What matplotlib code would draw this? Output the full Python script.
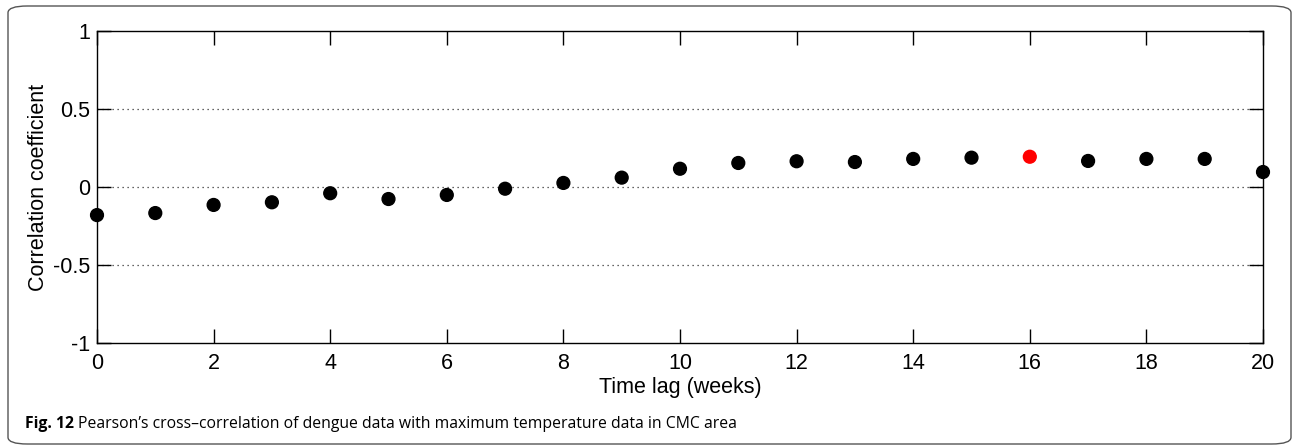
import matplotlib
matplotlib.use('Agg')
import matplotlib.pyplot as plt
from matplotlib.patches import FancyBboxPatch

# datos
lags = list(range(0, 21))
corr = [-0.18, -0.167, -0.115, -0.098, -0.04, -0.077, -0.051, -0.011, 0.026, 0.06,
        0.117, 0.154, 0.165, 0.16, 0.18, 0.188, 0.194, 0.167, 0.18, 0.18, 0.096]
max_lag = 16
yticks = [-1, -0.5, 0, 0.5, 1]
ytick_labels = ['-1', '-0.5', '0', '0.5', '1']
xticks = list(range(0, 21, 2))

plt.rcParams['font.family'] = ['Liberation Sans', 'DejaVu Sans']
plt.rcParams['axes.unicode_minus'] = False

W, H = 1294, 446
fig = plt.figure(figsize=(W / 100, H / 100), dpi=100)

# marco redondeado alrededor de la figura
box = FancyBboxPatch((8 / W, 1 - 444 / H), (1291 - 8) / W, (444 - 6) / H,
                     boxstyle='round,pad=0,rounding_size=0.015',
                     transform=fig.transFigure, fill=False,
                     edgecolor='#555555', linewidth=1.0)
fig.patches.append(box)

ax = fig.add_axes([97 / W, 1 - 343 / H, (1263 - 97) / W, (343 - 31) / H])

colors = ['red' if l == max_lag else 'black' for l in lags]
ax.scatter(lags, corr, s=85, c=colors, marker='o', zorder=3, clip_on=False)

ax.set_xlim(0, 20)
ax.set_ylim(-1, 1)
ax.set_xticks(xticks)
ax.set_yticks(yticks)
ax.set_yticklabels(ytick_labels)
for y in [-0.5, 0, 0.5]:
    ax.axhline(y, color='#333333', linestyle=(0, (1, 3)), linewidth=0.9, zorder=1)

ax.tick_params(direction='in', length=10, width=1, labelsize=15.5,
               top=True, right=True, pad=5)
ax.tick_params(axis='x', pad=7)
for s in ax.spines.values():
    s.set_linewidth(1.0)
ax.set_xlabel('Time lag (weeks)', fontsize=15.5, labelpad=2)
ax.set_ylabel('Correlation coefficient', fontsize=15.5, labelpad=3)

# pie de figura
t = fig.text(25 / W, 1 - 424 / H, 'Fig. 12', fontsize=11.3, fontweight='bold',
             family='Open Sans', va='center', ha='left')
fig.canvas.draw()
bb = t.get_window_extent()
fig.text((bb.x1 + 4) / W, 1 - 424 / H,
         'Pearson\u2019s cross\u2013correlation of dengue data with maximum temperature data in CMC area',
         fontsize=11.3, family='Open Sans', va='center', ha='left')

fig.savefig('out.png', dpi=100)
